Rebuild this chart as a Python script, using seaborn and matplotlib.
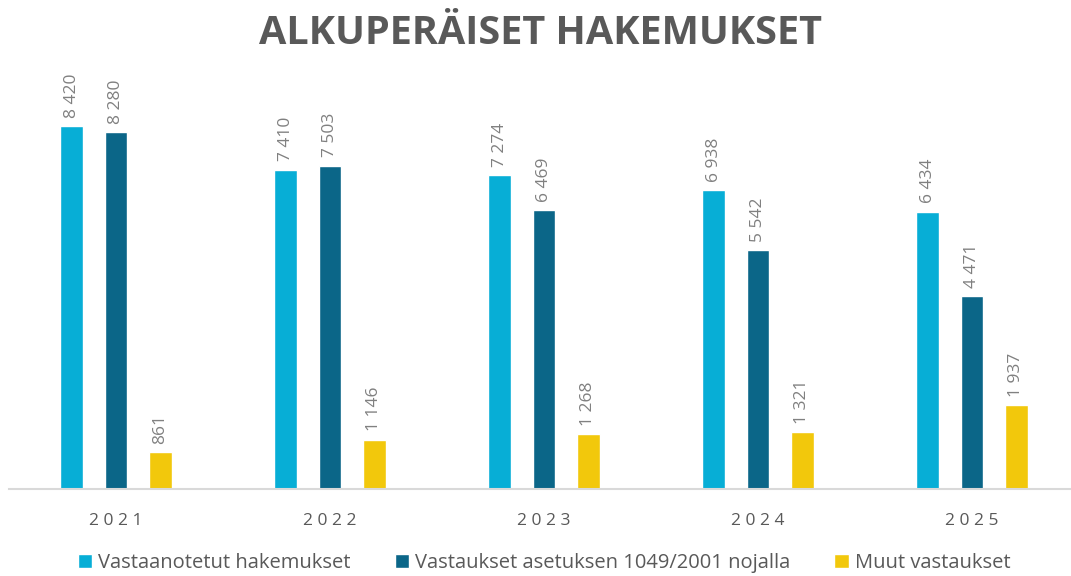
import numpy as np
import pandas as pd
import matplotlib.pyplot as plt
import seaborn as sns

# Tiedot kuvasta
vuodet = ["2021", "2022", "2023", "2024", "2025"]
sarjat = ["Vastaanotetut hakemukset",
          "Vastaukset asetuksen 1049/2001 nojalla",
          "Muut vastaukset"]
vastaanotetut = [8420, 7410, 7274, 6938, 6434]
vastaukset_asetus = [8280, 7503, 6469, 5542, 4471]
muut = [861, 1146, 1268, 1321, 1937]
varit = ["#07AED6", "#0B6688", "#F2C80C"]

df = pd.DataFrame({
    "Vuosi": vuodet * 3,
    "Sarja": [sarjat[0]] * 5 + [sarjat[1]] * 5 + [sarjat[2]] * 5,
    "Arvo": vastaanotetut + vastaukset_asetus + muut,
})

sns.set_style("white")
plt.rcParams['font.family'] = ['Open Sans', 'DejaVu Sans']

fig = plt.figure(figsize=(10.71, 5.76), dpi=100)
ax = fig.add_axes([9 / 1071, 87 / 576, 1070 / 1071, 388 / 576])

sns.barplot(data=df, x="Vuosi", y="Arvo", hue="Sarja", palette=varit,
            width=0.62, gap=0.48, saturation=1, ax=ax, legend=True)

ax.set_ylim(0, 9000)
ax.set_xlim(-0.5, 4.5)

# arvot pystyyn pylväiden päälle
for cont in ax.containers:
    labels = [f"{int(v):,}".replace(",", " ") for v in cont.datavalues]
    ax.bar_label(cont, labels=labels, rotation=90, padding=6,
                 fontsize=12.5, color="#808080")

ax.set_xlabel("")
ax.set_ylabel("")
ax.set_yticks([])
ax.set_xticks(range(len(vuodet)))
ax.set_xticklabels([" ".join(v) for v in vuodet], fontsize=12.5, color="#595959")
ax.tick_params(axis="x", length=0, pad=17)
for s in ["top", "right", "left"]:
    ax.spines[s].set_visible(False)
ax.spines["bottom"].set_color("#D9D9D9")
ax.spines["bottom"].set_linewidth(1.5)

fig.suptitle("ALKUPERÄISET HAKEMUKSET", x=0.505, y=0.975, fontsize=28.5,
             fontweight="bold", color="#595959")

ax.legend(loc="upper center", bbox_to_anchor=(0.5, -0.16), ncol=3,
          frameon=False, fontsize=14.5, labelcolor="#595959",
          handlelength=0.7, handleheight=0.7, handletextpad=0.3,
          columnspacing=2.2, borderaxespad=0, borderpad=0.1)

plt.savefig("out.png", dpi=100)
